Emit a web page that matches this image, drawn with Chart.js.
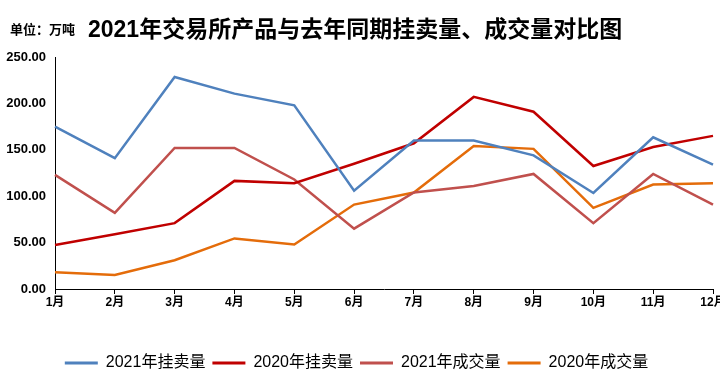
<!DOCTYPE html>
<html>
<head>
<meta charset="utf-8">
<script src="https://cdn.jsdelivr.net/npm/chart.js@4"></script>
<style>
  html, body { margin: 0; padding: 0; background: #fff; }
  #wrap { position: relative; width: 720px; height: 388px; overflow: hidden; }
  #unit { position: absolute; left: 10px; top: 19px; font: bold 13px "Liberation Sans", "Noto Sans CJK SC", sans-serif; color: #000; }
  #title { position: absolute; left: 88px; top: 10px; font: bold 23px "Liberation Sans", "Noto Sans CJK SC", sans-serif; color: #000; white-space: nowrap; }
  #c { position: absolute; left: 0; top: 0; }
</style>
</head>
<body>
<div id="wrap">
  <canvas id="c" width="720" height="388"></canvas>
  <div id="unit">单位：万吨</div>
  <div id="title">2021年交易所产品与去年同期挂卖量、成交量对比图</div>
</div>
<script>
const categories = ['1月','2月','3月','4月','5月','6月','7月','8月','9月','10月','11月','12月'];
const listed2021 = [175, 141, 228.5, 210.5, 198, 106, 160, 160, 144, 103.5, 163.5, 134];
const listed2020 = [47.5, 59, 71, 116.5, 114, 135, 157, 207, 191, 132.5, 153, 165];
const traded2021 = [123, 82, 152, 152, 118, 65, 104, 111, 124, 71, 124, 91];
const traded2020 = [18, 15, 31, 54.5, 48, 91, 104, 154, 151, 87.5, 112.5, 114];
const seriesNames = ['2021年挂卖量', '2020年挂卖量', '2021年成交量', '2020年成交量'];
const seriesColors = ['#4F81BD', '#C00000', '#C0504D', '#E46C0A'];
const yTicks = [0, 50, 100, 150, 200, 250];

const FONT = '"Liberation Sans", "Noto Sans CJK SC", sans-serif';
const allData = [listed2021, listed2020, traded2021, traded2020];

new Chart(document.getElementById('c'), {
  type: 'line',
  data: {
    labels: categories,
    datasets: allData.map((d, i) => ({
      label: seriesNames[i],
      data: d,
      borderColor: seriesColors[i],
      backgroundColor: seriesColors[i],
      borderWidth: 2.5,
      pointRadius: 0,
      tension: 0,
      fill: false
    }))
  },
  options: {
    responsive: false,
    animation: false,
    devicePixelRatio: 1,
    layout: { padding: { left: 0, right: 7, top: 57, bottom: 7 } },
    plugins: {
      tooltip: { enabled: false },
      legend: {
        position: 'bottom',
        labels: {
          font: { family: FONT, size: 16 },
          color: '#000',
          boxWidth: 33,
          boxHeight: 3,
          padding: 7,
          generateLabels: (chart) => chart.data.datasets.map((ds, i) => ({
            text: ds.label,
            fillStyle: ds.borderColor,
            strokeStyle: ds.borderColor,
            lineWidth: 0,
            datasetIndex: i,
            hidden: false
          }))
        }
      }
    },
    scales: {
      x: {
        offset: false,
        grid: { drawOnChartArea: false, drawTicks: true, tickLength: 5, color: '#000', lineWidth: 1 },
        border: { color: '#000', width: 1 },
        ticks: { font: { family: FONT, size: 12, weight: 'bold' }, color: '#000', padding: 1, maxRotation: 0, autoSkip: false },
        afterFit: (s) => { s.paddingRight = 0; s.paddingLeft = 0; s.height = 59; }
      },
      y: {
        min: 0, max: 250,
        afterBuildTicks: (s) => { s.ticks = yTicks.map(v => ({ value: v })); },
        grid: { display: false, drawTicks: false },
        border: { display: true, color: '#000', width: 1 },
        ticks: {
          font: { family: FONT, size: 13, weight: 'bold' }, color: '#000', padding: 9,
          callback: (v) => Number(v).toFixed(2)
        },
        afterFit: (s) => { s.width = 55; s.paddingTop = 0; s.paddingBottom = 0; }
      }
    }
  }
});
</script>
</body>
</html>
